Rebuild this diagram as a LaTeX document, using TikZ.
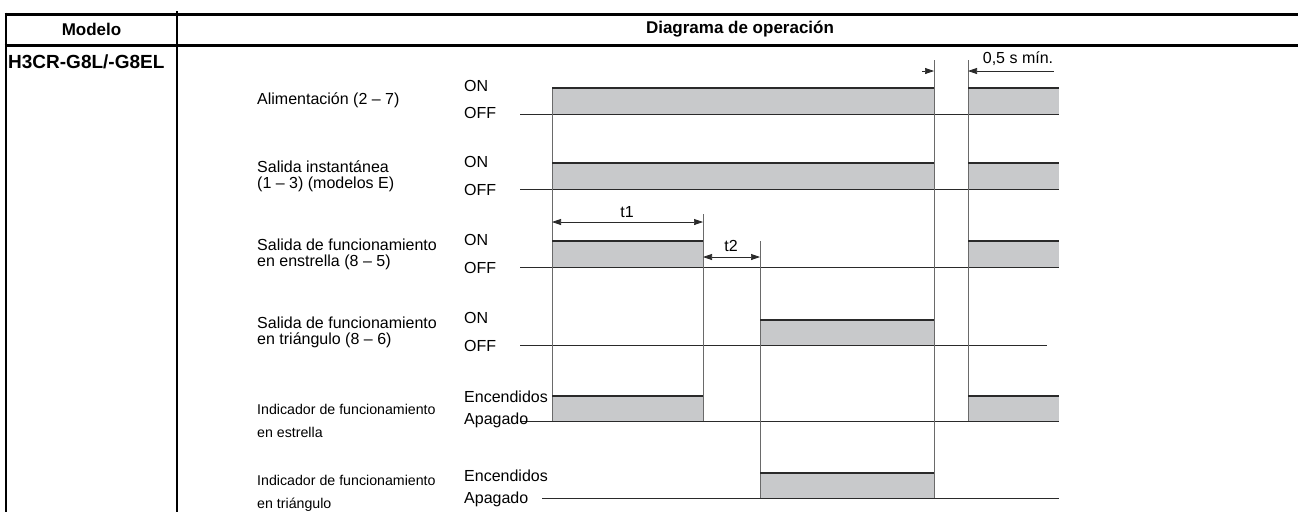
\documentclass[tikz,border=0pt]{standalone}
\usepackage{fontspec}
\setmainfont{Liberation Sans}
\usetikzlibrary{arrows.meta}
\definecolor{barfill}{HTML}{C8C9CB}
\definecolor{edge}{HTML}{2A2A2A}
\definecolor{vgray}{HTML}{6A6A6A}
\begin{document}
\begin{tikzpicture}[x=1pt,y=-1pt,
  lbl/.style={anchor=west,inner sep=0pt,font=\fontsize{16}{16}\selectfont,align=left},
  slbl/.style={anchor=west,inner sep=0pt,font=\fontsize{14.2}{23}\selectfont,align=left},
  st/.style={anchor=west,inner sep=0pt,font=\fontsize{16}{16}\selectfont},
  hdr/.style={inner sep=0pt,font=\fontsize{17}{17}\selectfont\bfseries},
  rule/.style={line width=3pt,black},
  vrule/.style={line width=2.5pt,black},
  base/.style={line width=0.9pt,edge},
  topedge/.style={line width=2.2pt,edge},
  vline/.style={line width=0.9pt,vgray},
  bar/.style={fill=barfill},
  dim/.style={line width=0.7pt,edge,{Triangle[length=9pt,width=6pt]}-{Triangle[length=9pt,width=6pt]}},
  dimr/.style={line width=0.7pt,edge,-{Triangle[length=9pt,width=6pt]}},
  diml/.style={line width=0.7pt,edge,{Triangle[length=9pt,width=6pt]}-}
]
\useasboundingbox (0,0) rectangle (1298,512);
% ---------- table ----------
\draw[rule] (4.5,14) -- (1298,14);
\draw[rule] (4.5,45) -- (1298,45);
\draw[vrule] (6,12.5) -- (6,512);
\draw[vrule] (177,11) -- (177,512);
\node[hdr] (mod) at (91.5,29.5) {Modelo};
\node[hdr] (dia) at (740,29.5) {Diagrama de operación};
\node[hdr,anchor=west,font=\fontsize{19}{19}\selectfont\bfseries] (model) at (8,62) {H3CR-G8L/-G8EL};
% ---------- bars (fills) ----------
\fill[bar] (552,88) rectangle (934,114);
\fill[bar] (968,88) rectangle (1059,114);
\fill[bar] (552,163) rectangle (934,189);
\fill[bar] (968,163) rectangle (1059,189);
\fill[bar] (552,241) rectangle (703,267);
\fill[bar] (968,241) rectangle (1059,267);
\fill[bar] (760,320) rectangle (934,345);
\fill[bar] (552,396) rectangle (703,421);
\fill[bar] (968,396) rectangle (1059,421);
\fill[bar] (760,473) rectangle (934,498);
% ---------- baselines ----------
\draw[base] (520,114) -- (1059,114);
\draw[base] (520,189) -- (1059,189);
\draw[base] (520,267) -- (1059,267);
\draw[base] (520,345) -- (1047,345);
\draw[base] (520,421) -- (1059,421);
\draw[base] (542,498) -- (1059,498);
% ---------- vertical edges ----------
\coordinate (a1) at (552,88);  \coordinate (a2) at (552,421);
\coordinate (b1) at (703,214); \coordinate (b2) at (703,421);
\coordinate (c1) at (760,241); \coordinate (c2) at (760,498);
\coordinate (d1) at (934,60);  \coordinate (d2) at (934,498);
\coordinate (e1) at (968,60);  \coordinate (e2) at (968,421);
\draw[vline] (a1) -- (a2);
\draw[vline] (b1) -- (b2);
\draw[vline] (c1) -- (c2);
\draw[vline] (d1) -- (d2);
\draw[vline] (e1) -- (e2);
% ---------- top edges ----------
\draw[topedge] (552,88) -- (934,88);
\draw[topedge] (968,88) -- (1059,88);
\draw[topedge] (552,163) -- (934,163);
\draw[topedge] (968,163) -- (1059,163);
\draw[topedge] (552,241) -- (703,241);
\draw[topedge] (968,241) -- (1059,241);
\draw[topedge] (760,320) -- (934,320);
\draw[topedge] (552,396) -- (703,396);
\draw[topedge] (968,396) -- (1059,396);
\draw[topedge] (760,473) -- (934,473);
% ---------- dimensions ----------
\coordinate (t1a) at (552,222); \coordinate (t1b) at (703,222);
\coordinate (t2a) at (703,257); \coordinate (t2b) at (760,257);
\draw[dim] (t1a) -- (t1b);
\draw[dim] (t2a) -- (t2b);
\node[st,anchor=center] (t1) at (627,212) {t1};
\node[st,anchor=center] (t2) at (731,246) {t2};
\coordinate (ma) at (922,71); \coordinate (mb) at (934,71);
\coordinate (mc) at (968,71); \coordinate (md) at (1054,71);
\draw[dimr] (ma) -- (mb);
\draw[diml] (mc) -- (md);
\node[st,anchor=center] (min) at (1018,59) {0,5 s mín.};
% ---------- row labels ----------
\node[lbl] (l1) at (257,100) {Alimentación (2 – 7)};
\node[lbl] (l2) at (257,176) {Salida instantánea\\(1 – 3) (modelos E)};
\node[lbl] (l3) at (257,254) {Salida de funcionamiento\\en enstrella (8 – 5)};
\node[lbl] (l4) at (257,332) {Salida de funcionamiento\\en triángulo (8 – 6)};
\node[slbl] (l5) at (257,421) {Indicador de funcionamiento\\en estrella};
\node[slbl] (l6) at (257,493) {Indicador de funcionamiento\\en triángulo};
% ---------- state labels ----------
\node[st] (on1) at (464,86) {ON};
\node[st] (off1) at (464,113) {OFF};
\node[st] (on2) at (464,162) {ON};
\node[st] (off2) at (464,190) {OFF};
\node[st] (on3) at (464,240) {ON};
\node[st] (off3) at (464,268) {OFF};
\node[st] (on4) at (464,318) {ON};
\node[st] (off4) at (464,346) {OFF};
\node[st] (en5) at (464,397) {Encendidos};
\node[st] (ap5) at (464,420) {Apagado};
\node[st] (en6) at (464,476) {Encendidos};
\node[st] (ap6) at (464,499) {Apagado};
\end{tikzpicture}
\end{document}
